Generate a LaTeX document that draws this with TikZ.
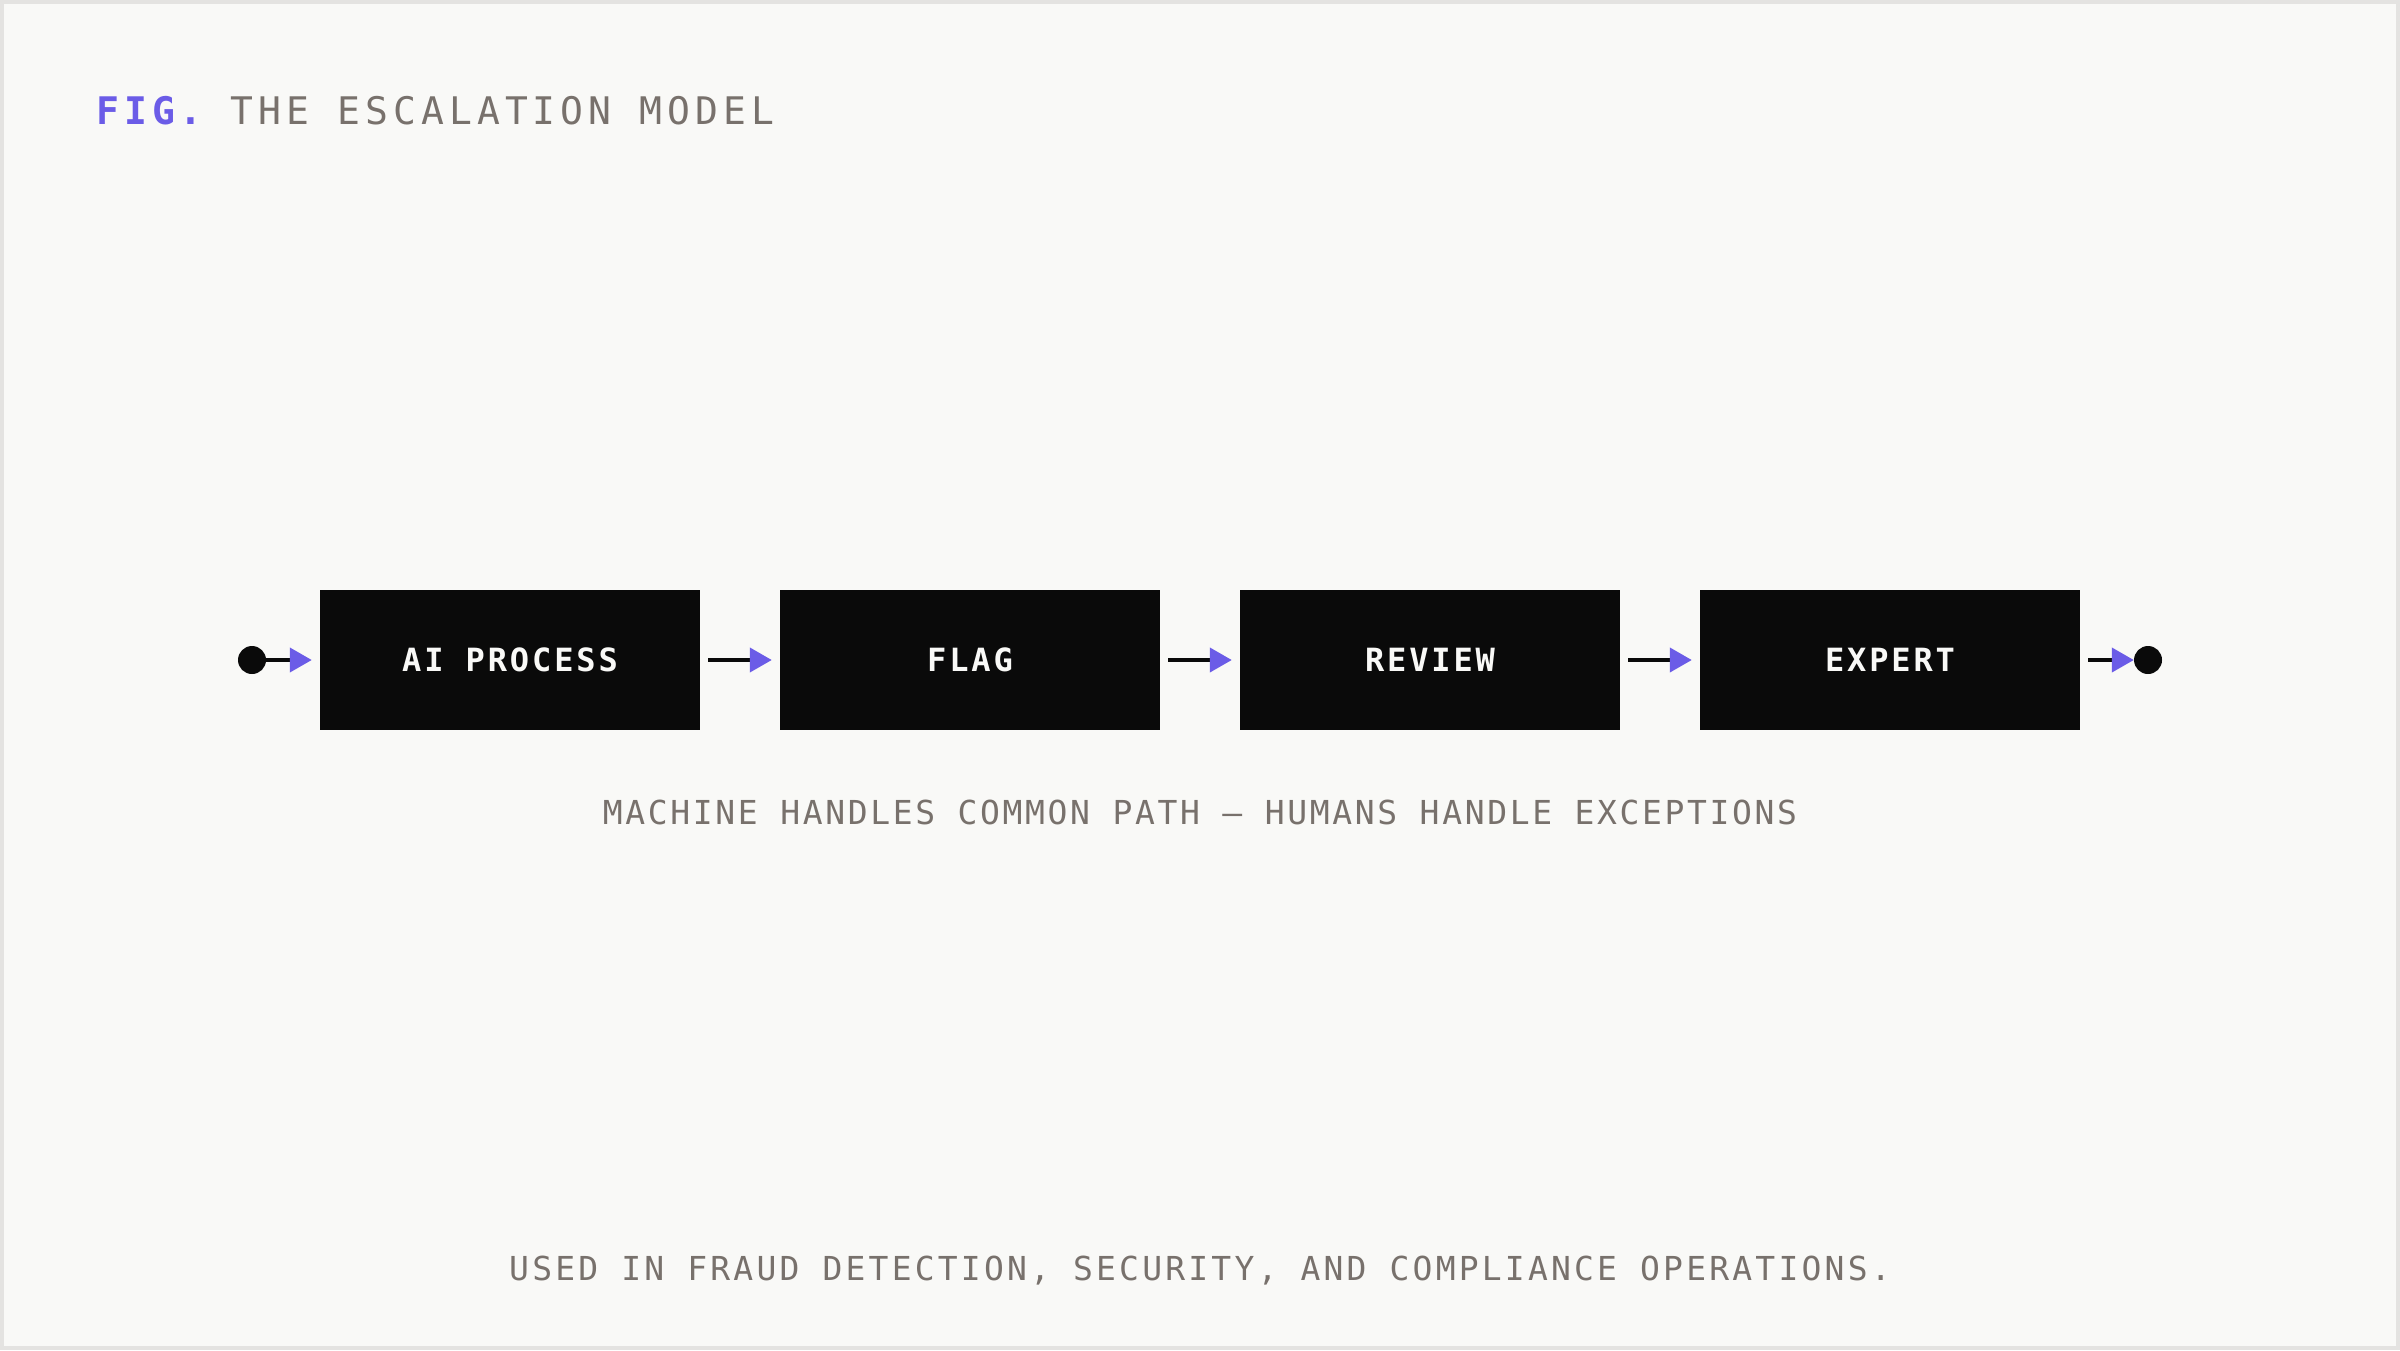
\documentclass[tikz,border=0pt]{standalone}
\usepackage{fontspec}
\usetikzlibrary{arrows.meta}
\newfontfamily\titlefont{DejaVu Sans Mono}[LetterSpace=13.3]
\newfontfamily\capfont{DejaVu Sans Mono}[LetterSpace=8]
\newfontfamily\footfont{DejaVu Sans Mono}[LetterSpace=9.7]
\newfontfamily\boxfont{DejaVu Sans Mono}[LetterSpace=9]
\definecolor{bgcol}{HTML}{F9F9F7}
\definecolor{bordercol}{HTML}{E4E3E1}
\definecolor{inkcol}{HTML}{0A0A0A}
\definecolor{graycol}{HTML}{78716C}
\definecolor{accent}{HTML}{6B5CE7}
\tikzset{
  stagebox/.style={fill=inkcol, draw=none, minimum width=380pt, minimum height=140pt, inner sep=0pt,
    text=bgcol, font=\boxfont\bfseries\fontsize{32}{34}\selectfont},
  enddot/.style={circle, fill=inkcol, draw=none, minimum size=28pt, inner sep=0pt},
  flow/.style={draw=inkcol, line width=4pt, -{Triangle[length=22pt,width=24pt,color=accent]}},
  captext/.style={text=graycol, inner sep=0pt}
}
\begin{document}
\begin{tikzpicture}[x=1pt,y=-1pt]
\useasboundingbox (0,0) rectangle (2400,1350);
\fill[bordercol] (0,0) rectangle (2400,1350);
\fill[bgcol] (4,4) rectangle (2396,1346);

\node[anchor=base west, inner sep=0pt, font=\titlefont\fontsize{38}{40}\selectfont] (title) at (96,124)
  {\textcolor{accent}{\bfseries FIG.}\ \textcolor{graycol}{THE ESCALATION MODEL}};

\node[enddot] (start) at (252,660) {};
\node[stagebox] (ai) at (510,660) {AI PROCESS};
\node[stagebox] (flag) at (970,660) {FLAG};
\node[stagebox] (review) at (1430,660) {REVIEW};
\node[stagebox] (expert) at (1890,660) {EXPERT};
\node[enddot] (stop) at (2148,660) {};

\draw[flow, shorten >=8pt] (start) -- (ai);
\draw[flow, shorten <=8pt, shorten >=8pt] (ai) -- (flag);
\draw[flow, shorten <=8pt, shorten >=8pt] (flag) -- (review);
\draw[flow, shorten <=8pt, shorten >=8pt] (review) -- (expert);
\draw[flow, shorten <=8pt] (expert) -- (stop);

\node[captext, anchor=base, font=\capfont\fontsize{33}{35}\selectfont] (cap) at (1200,824) {MACHINE HANDLES COMMON PATH — HUMANS HANDLE EXCEPTIONS};
\node[captext, anchor=base, font=\footfont\fontsize{33}{35}\selectfont] (foot) at (1200,1280) {USED IN FRAUD DETECTION, SECURITY, AND COMPLIANCE OPERATIONS.};
\end{tikzpicture}
\end{document}
